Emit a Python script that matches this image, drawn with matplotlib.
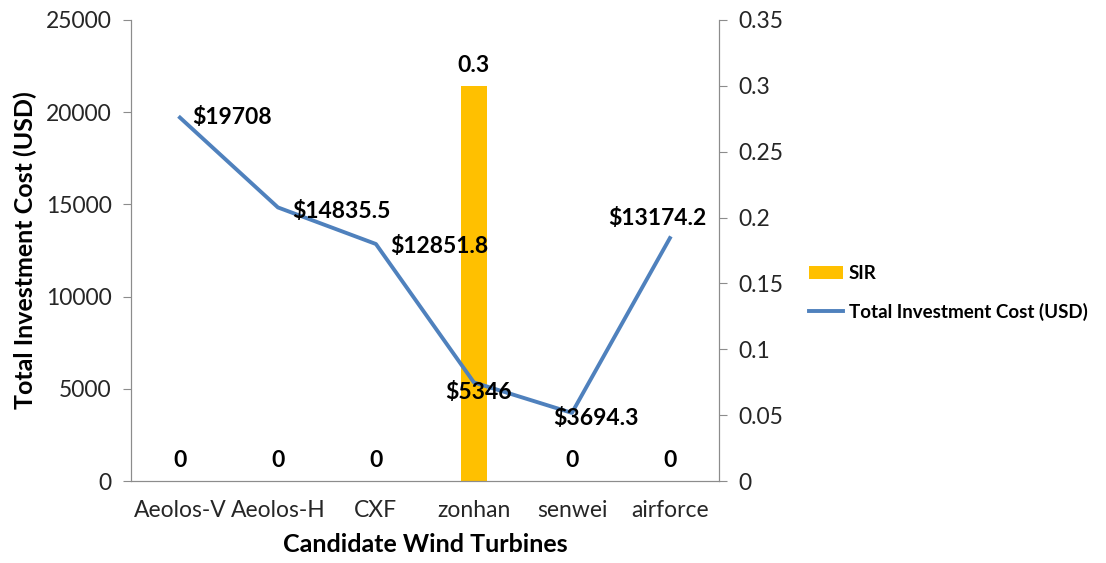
import matplotlib
matplotlib.use('Agg')
import matplotlib.pyplot as plt
from matplotlib.ticker import FuncFormatter

plt.rcParams['font.family'] = ['Lato', 'DejaVu Sans']

turbines = ['Aeolos-V', 'Aeolos-H', 'CXF', 'zonhan', 'senwei', 'airforce']
cost = [19708, 14835.5, 12851.8, 5346, 3694.3, 13174.2]
sir = [0, 0, 0, 0.3, 0, 0]
cost_labels = ['$19708', '$14835.5', '$12851.8', '$5346', '$3694.3', '$13174.2']

# label offsets in points (dx, dy, ha)
cost_offsets = [(9, 0, 'left'), (10, -3, 'left'), (10, -2, 'left'),
                (3, -7, 'center'), (17, -4, 'center'), (-9, 14, 'center')]

fig = plt.figure(figsize=(11.06, 5.63), dpi=100)
ax = fig.add_axes([0.1184, 0.1456, 0.5316, 0.8189])
ax2 = ax.twinx()

x = list(range(len(turbines)))

# bars on secondary axis, line on primary
ax2.bar(x, sir, width=0.26, color='#FFC000', label='SIR', zorder=1)
line, = ax.plot(x, cost, color='#4F81BD', lw=2.8, label='Total Investment Cost (USD)', zorder=3)
ax.set_zorder(ax2.get_zorder() + 1)
ax.patch.set_visible(False)

ax.set_xlim(-0.5, len(turbines) - 0.5)
ax.set_ylim(0, 25000)
ax.set_yticks(range(0, 25001, 5000))
ax2.set_ylim(0, 0.35)
ax2.set_yticks([0, 0.05, 0.1, 0.15, 0.2, 0.25, 0.3, 0.35])
ax2.yaxis.set_major_formatter(FuncFormatter(lambda v, p: '%g' % v))

ax.set_xticks(x)
ax.set_xticklabels(turbines)

for a in (ax, ax2):
    for s in a.spines.values():
        s.set_color('#8C8C8C')
    a.spines['top'].set_visible(False)
    a.tick_params(axis='y', colors='#8C8C8C', labelcolor='#262626', labelsize=16.5,
                  length=6, direction='out', pad=8)
ax.tick_params(axis='x', length=0, labelsize=16.5, labelcolor='#262626', pad=14)

for i, (v, lab) in enumerate(zip(cost, cost_labels)):
    dx, dy, ha = cost_offsets[i]
    ax.annotate(lab, (i, v), xytext=(dx, dy), textcoords='offset points',
                ha=ha, va='center', fontsize=16.5, fontweight='bold', color='black', zorder=4)

for i, v in enumerate(sir):
    ax2.annotate('%g' % v, (i, v), xytext=(0, 15), textcoords='offset points',
                 ha='center', va='center', fontsize=16.5, fontweight='bold', color='black')

ax.set_ylabel('Total Investment Cost (USD)', fontsize=18, fontweight='bold', labelpad=6)
ax.set_xlabel('Candidate Wind Turbines', fontsize=18, fontweight='bold', labelpad=8)

handles = [ax2.containers[0], line]
fig.legend(handles, ['SIR', 'Total Investment Cost (USD)'], loc='center left',
           bbox_to_anchor=(0.72, 0.48), frameon=False,
           prop={'weight': 'bold', 'size': 13.5}, handlelength=1.8, handletextpad=0.3,
           labelspacing=1.1, borderpad=0.2)

fig.savefig('out.png', dpi=100)
